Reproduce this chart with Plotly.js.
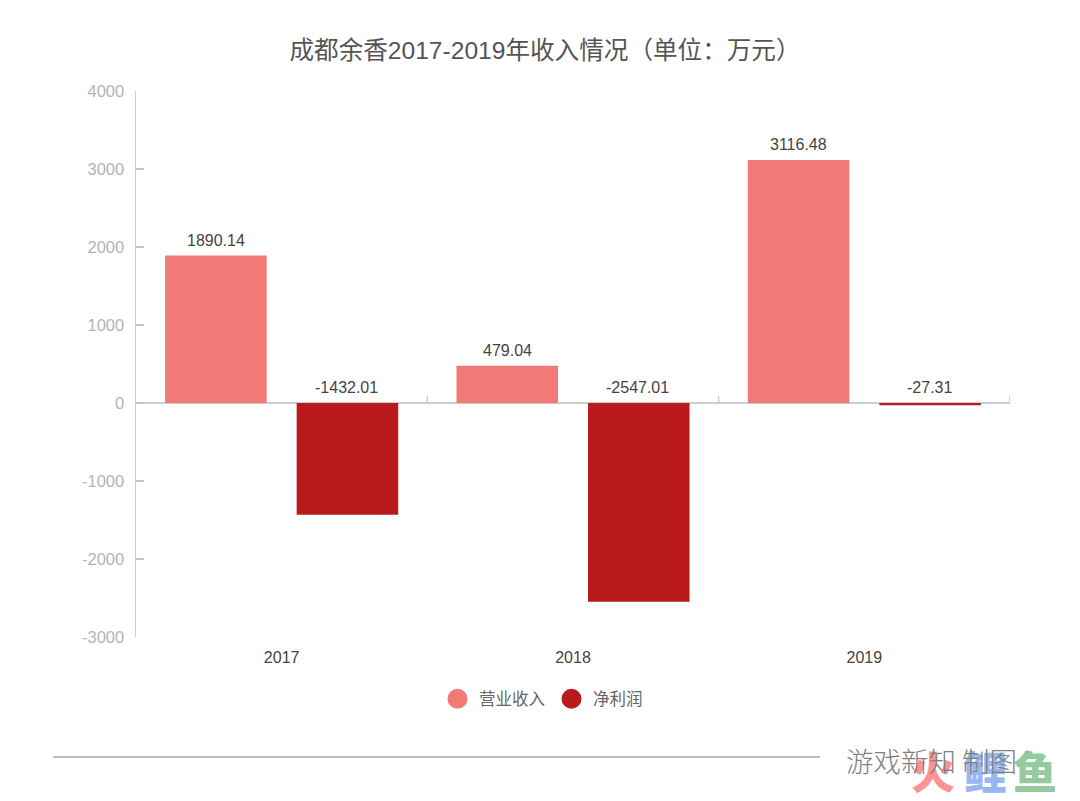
<!DOCTYPE html>
<html><head><meta charset="utf-8">
<script src="https://cdn.plot.ly/plotly-3.0.0.min.js"></script>
<style>html,body{margin:0;padding:0;background:#fff}</style></head>
<body><div id="chart" style="width:1080px;height:801px"></div>
<script>
const years = ['2017','2018','2019'];
const revenue = [1890.14, 479.04, 3116.48];
const profit = [-1432.01, -2547.01, -27.31];
const revenueName = '营业收入';
const profitName = '净利润';
const yTicks = [-3000,-2000,-1000,0,1000,2000,3000,4000];
const boundaries = [0.5,1.5,2.5];
const F = '"Liberation Sans","Noto Sans CJK SC",sans-serif';
const CJK = '"Noto Sans CJK SC","Liberation Sans",sans-serif';
const C1 = '#f17a77', C2 = '#bb1a1c';
const bar = (name,y,color)=>({type:'bar',name,x:years,y,marker:{color},showlegend:false,hoverinfo:'x+y'});
const label = (y,i,ax)=>({x:i,xref:'x',y:Math.max(y,0),yref:'y',yanchor:'bottom',yshift:5,xshift:ax,
  text:String(y),showarrow:false,font:{family:F,size:16,color:'#444'}});
const annotations = [];
revenue.forEach((v,i)=>annotations.push(label(v,i,-65.75)));
profit.forEach((v,i)=>annotations.push(label(v,i,64.75)));
[['火','#fb9296',933],['鲤','#98b6f2',985],['鱼','#93cb9f',1035]].forEach(([t,c,x])=>annotations.push(
  {xref:'paper',yref:'paper',x:(x-136)/874,y:(637-769.5)/546,xanchor:'center',yanchor:'middle',showarrow:false,
   text:t,font:{family:CJK,size:44,color:c,weight:900}}));
annotations.push({xref:'paper',yref:'paper',x:(844-136)/874,y:(637-760)/546,xanchor:'left',yanchor:'middle',showarrow:false,
  text:'游戏新知 制图',font:{family:'"Noto Sans CJK SC",serif',size:27.5,color:'#808080',weight:300}});
const shapes = boundaries.map(b=>({type:'line',xref:'x',yref:'y',x0:b,x1:b,y0:0,y1:90,line:{color:'#ccc',width:1.5}}));
shapes.push({type:'line',xref:'paper',yref:'paper',x0:(53-136)/874,x1:(820-136)/874,y0:(637-757)/546,y1:(637-757)/546,line:{color:'#aaa',width:1.5}});
Plotly.newPlot('chart',[
  bar(revenueName,revenue,C1),bar(profitName,profit,C2),
  {type:'scatter',mode:'markers',name:revenueName,x:[null],y:[null],marker:{color:C1,size:16,symbol:'circle',line:{color:C1,width:4}}},
  {type:'scatter',mode:'markers',name:profitName,x:[null],y:[null],marker:{color:C2,size:16,symbol:'circle',line:{color:C2,width:4}}}
],{
  width:1080,height:801,paper_bgcolor:'#fff',plot_bgcolor:'#fff',
  margin:{l:136,r:70,t:91,b:164,pad:0},
  title:{text:'成都余香2017-2019年收入情况（单位：万元）',x:545/1080,xref:'container',xanchor:'center',y:1-50/801,yanchor:'middle',
    font:{family:F,size:24.6,color:'#555'}},
  barmode:'group',bargap:0.097,bargroupgap:0.228,
  xaxis:{type:'category',range:[-0.5,2.5],showgrid:false,zeroline:false,showline:false,ticks:'',
    tickfont:{family:F,size:16,color:'#444'},automargin:false,ticklabelstandoff:9},
  yaxis:{range:[-3000,4000],tickvals:yTicks,ticktext:yTicks.map(String),showgrid:false,zeroline:true,zerolinecolor:'#ccc',zerolinewidth:1.5,
    showline:true,linecolor:'#ccc',linewidth:1.5,ticks:'inside',ticklen:8,tickcolor:'#c4c4c4',tickwidth:1.5,ticklabelstandoff:7,
    tickfont:{family:F,size:16.5,color:'#b4b4b4'},automargin:false},
  legend:{orientation:'h',x:(436-136)/874,xanchor:'left',y:(637-699)/546,yanchor:'middle',font:{family:CJK,size:16.5,color:'#666'},itemwidth:33,bgcolor:'rgba(0,0,0,0)'},
  annotations,shapes,hovermode:false
},{displayModeBar:false,staticPlot:true});
</script></body></html>
